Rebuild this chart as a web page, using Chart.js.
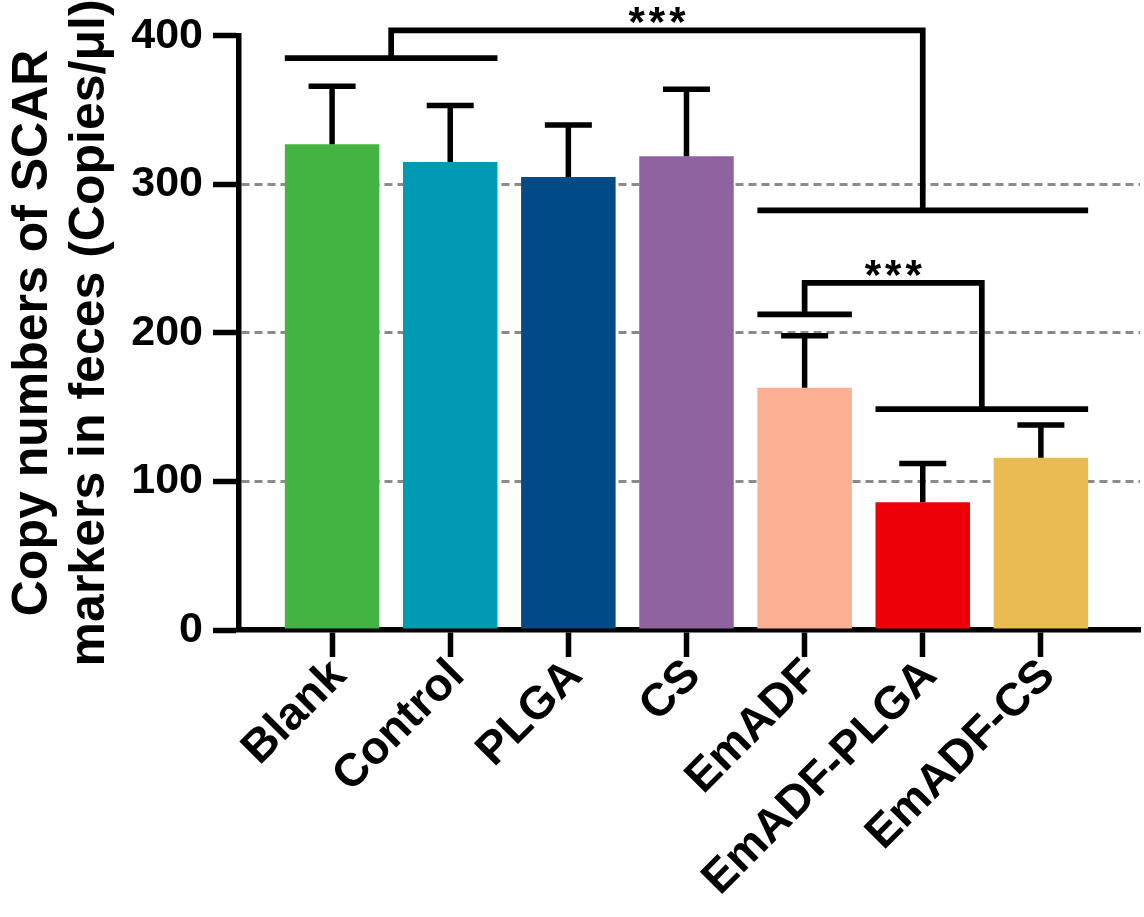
<!DOCTYPE html>
<html>
<head>
<meta charset="utf-8">
<script src="https://cdn.jsdelivr.net/npm/chart.js@4.4.1/dist/chart.umd.min.js"></script>
<style>
  html, body { margin: 0; padding: 0; background: #fff; }
  #wrap { width: 1144px; height: 917px; }
</style>
</head>
<body>
<div id="wrap"><canvas id="chartId" width="1144" height="917"></canvas></div>
<script>
const categories = ['Blank', 'Control', 'PLGA', 'CS', 'EmADF', 'EmADF-PLGA', 'EmADF-CS'];
const means = [327, 315, 305, 319, 163, 86, 116];
const sd = [39, 38, 35, 45, 35, 26, 22];
const barColors = ['#43b441', '#009ab4', '#004a88', '#8f62a0', '#fbb094', '#ef0008', '#e8bc50'];
const yTicks = [0, 100, 200, 300, 400];

// significance marks: group bars (category units / values) and the brackets joining them
const groupBars = [
  { from: -0.4, to: 1.4, y: 385 },
  { from: 3.6, to: 6.4, y: 282.5 },
  { from: 3.6, to: 4.4, y: 212.5 },
  { from: 4.6, to: 6.4, y: 148.7 }
];
const brackets = [
  { x1: 0.5, x2: 5.0, y1: 385, y2: 282.5, top: 403.7, text: '***' },
  { x1: 4.0, x2: 5.5, y1: 212.5, y2: 148.7, top: 233.7, text: '***' }
];

const FONT = '"Liberation Sans", Arial, Helvetica, sans-serif';

const annotations = {
  id: 'annotations',
  afterDatasetsDraw(chart) {
    const { ctx, scales: { x, y } } = chart;
    const meta = chart.getDatasetMeta(0);
    ctx.save();
    ctx.strokeStyle = '#000';
    ctx.lineCap = 'butt';
    ctx.lineJoin = 'miter';

    // upper error bars
    ctx.lineWidth = 5.5;
    meta.data.forEach((bar, i) => {
      const yTop = y.getPixelForValue(means[i] + sd[i]);
      ctx.beginPath();
      ctx.moveTo(bar.x, bar.y);
      ctx.lineTo(bar.x, yTop);
      ctx.moveTo(bar.x - 23.5, yTop);
      ctx.lineTo(bar.x + 23.5, yTop);
      ctx.stroke();
    });

    // group bars
    ctx.lineWidth = 5.7;
    groupBars.forEach(g => {
      const py = y.getPixelForValue(g.y);
      ctx.beginPath();
      ctx.moveTo(x.getPixelForValue(g.from), py);
      ctx.lineTo(x.getPixelForValue(g.to), py);
      ctx.stroke();
    });

    // brackets + stars
    ctx.fillStyle = '#000';
    ctx.font = 'bold 42px ' + FONT;
    ctx.textAlign = 'center';
    ctx.textBaseline = 'alphabetic';
    if ('letterSpacing' in ctx) ctx.letterSpacing = '4px';
    brackets.forEach(b => {
      const top = y.getPixelForValue(b.top);
      const xa = x.getPixelForValue(b.x1);
      const xb = x.getPixelForValue(b.x2);
      ctx.beginPath();
      ctx.moveTo(xa, y.getPixelForValue(b.y1));
      ctx.lineTo(xa, top);
      ctx.lineTo(xb, top);
      ctx.lineTo(xb, y.getPixelForValue(b.y2));
      ctx.stroke();
      ctx.fillText(b.text, (xa + xb) / 2 + 2, top + 6);
    });
    ctx.restore();
  }
};

const ctx = document.getElementById('chartId').getContext('2d');

const chart = new Chart(ctx, {
  type: 'bar',
  data: {
    datasets: [{
      data: means.map((v, i) => ({ x: i, y: v })),
      backgroundColor: barColors,
      borderWidth: 0,
      categoryPercentage: 1.0,
      barPercentage: 0.8
    }]
  },
  options: {
    responsive: false,
    animation: false,
    devicePixelRatio: 1,
    layout: { padding: { top: 32, right: 4, left: 0, bottom: 0 } },
    plugins: { legend: { display: false }, tooltip: { enabled: false } },
    scales: {
      x: {
        type: 'linear',
        offset: false,
        min: -0.788,
        max: 6.839,
        z: 1,
        afterBuildTicks: s => { s.ticks = categories.map((c, i) => ({ value: i })); },
        afterFit: s => { s.height = 287; },
        ticks: {
          autoSkip: false,
          minRotation: 45,
          maxRotation: 45,
          padding: -8,
          labelOffset: 7,
          color: '#000',
          font: { family: FONT, size: 46, weight: 'bold' },
          callback: v => categories[v]
        },
        grid: {
          offset: false,
          drawOnChartArea: false,
          drawTicks: true,
          tickLength: 27,
          tickWidth: 5.5,
          tickColor: '#000'
        },
        border: { display: true, color: '#000', width: 5.5 }
      },
      y: {
        min: 0,
        max: 400,
        afterBuildTicks: s => { s.ticks = yTicks.map(v => ({ value: v })); },
        afterFit: s => { s.width = 239; },
        ticks: {
          padding: 10,
          color: '#000',
          font: { family: FONT, size: 43, weight: 'bold' }
        },
        grid: {
          color: c => (c.tick && (c.tick.value === 0 || c.tick.value === 400)) ? 'rgba(0,0,0,0)' : '#8a8a8a',
          lineWidth: 3,
          tickLength: 26,
          tickWidth: 5.5,
          tickColor: '#000'
        },
        border: { display: true, color: '#000', width: 5.5, dash: [8, 5] },
        title: {
          display: true,
          text: ['Copy numbers of SCAR', 'markers in feces (Copies/μl)'],
          color: '#000',
          font: { family: FONT, size: 50, weight: 'bold', lineHeight: 1.15 },
          padding: { top: 4, bottom: 0 }
        }
      }
    }
  },
  plugins: [annotations]
});
</script>
</body>
</html>
